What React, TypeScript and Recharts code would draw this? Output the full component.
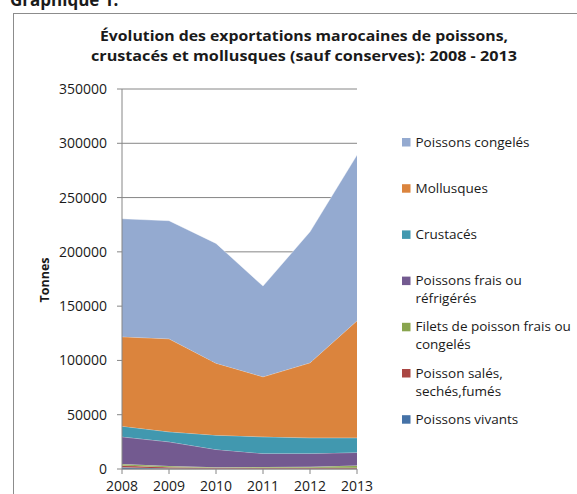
import React from 'react';
import { AreaChart, Area, XAxis, YAxis, CartesianGrid } from 'recharts';

// Exportations marocaines (tonnes)
const years = ['2008', '2009', '2010', '2011', '2012', '2013'];
const poissonsVivants = [1500, 500, 300, 300, 300, 300];
const poissonSales = [1800, 1200, 800, 900, 900, 900];
const filetsPoisson = [1200, 1000, 600, 700, 800, 2000];
const poissonsFrais = [25100, 22300, 16300, 12400, 12300, 12000];
const crustaces = [9850, 9200, 13150, 15300, 14400, 13500];
const mollusques = [82300, 85700, 66350, 55300, 69100, 107800];
const poissonsCongeles = [108750, 108800, 110300, 83600, 120700, 152700];
const yTicks = [0, 50000, 100000, 150000, 200000, 250000, 300000, 350000];

// stacking order: first = bottom
const series = [
  { key: 'vivants', lines: ['Poissons vivants'], color: '#4572A7', values: poissonsVivants },
  { key: 'sales', lines: ['Poisson salés,', 'sechés,fumés'], color: '#AA4643', values: poissonSales },
  { key: 'filets', lines: ['Filets de poisson frais ou', 'congelés'], color: '#89A54E', values: filetsPoisson },
  { key: 'frais', lines: ['Poissons frais ou', 'réfrigérés'], color: '#735A90', values: poissonsFrais },
  { key: 'crustaces', lines: ['Crustacés'], color: '#4198AF', values: crustaces },
  { key: 'mollusques', lines: ['Mollusques'], color: '#DB843D', values: mollusques },
  { key: 'congeles', lines: ['Poissons congelés'], color: '#94AAD0', values: poissonsCongeles },
];

const data = years.map((year, i) => {
  const row: Record<string, any> = { year };
  series.forEach(s => { row[s.key] = s.values[i]; });
  return row;
});

const FONT = '"Open Sans", "Liberation Sans", sans-serif';
const AXIS = '#868686';

export default function App() {
  const legendItems = [...series].reverse();
  return (
    <div style={{ position: 'absolute', left: 0, top: 0, width: 577, height: 494, overflow: 'hidden', background: '#fff', fontFamily: FONT }}>
      <div style={{ position: 'absolute', left: 13, top: 13, width: 600, height: 500, borderLeft: '1px solid #8c8c8c', borderTop: '1px solid #8c8c8c' }} />

      <div style={{ position: 'absolute', left: 0, top: 0 }}>
        <AreaChart width={577} height={494} data={data} margin={{ top: 89, right: 220, bottom: 0, left: 52 }}>
          <CartesianGrid vertical={false} stroke={AXIS} strokeWidth={1} />
          <XAxis
            dataKey="year"
            height={25}
            axisLine={{ stroke: AXIS }}
            tickLine={{ stroke: AXIS }}
            tickSize={5}
            tickMargin={7}
            interval={0}
            tick={{ fontSize: 14, fill: '#1a1a1a' }}
          />
          <YAxis
            width={70}
            domain={[0, 350000]}
            ticks={yTicks}
            interval={0}
            axisLine={{ stroke: AXIS }}
            tickLine={{ stroke: AXIS }}
            tickSize={5}
            tickMargin={10}
            tick={{ fontSize: 14, fill: '#1a1a1a' }}
          />
          {series.map(s => (
            <Area
              key={s.key}
              type="linear"
              dataKey={s.key}
              stackId="1"
              fill={s.color}
              fillOpacity={1}
              stroke="#ffffff"
              strokeOpacity={0.5}
              strokeWidth={0.8}
              isAnimationActive={false}
            />
          ))}
        </AreaChart>
      </div>

      <svg width={577} height={494} style={{ position: 'absolute', left: 0, top: 0, pointerEvents: 'none' }}>
        <text x={10} y={6} fontSize={17} fontWeight="bold" fill="#1a1a1a">Graphique 1:</text>
        <text x={100} y={40.5} fontSize={15} fontWeight="bold" fill="#1a1a1a" textLength={408} lengthAdjust="spacingAndGlyphs">
          Évolution des exportations marocaines de poissons,
        </text>
        <text x={91} y={61} fontSize={15} fontWeight="bold" fill="#1a1a1a" textLength={426} lengthAdjust="spacingAndGlyphs">
          crustacés et mollusques (sauf conserves): 2008 - 2013
        </text>
        <text x={48.5} y={280} fontSize={12.5} fontWeight="bold" fill="#1a1a1a" textAnchor="middle" transform="rotate(-90 48.5 280)">
          Tonnes
        </text>
        {legendItems.map((s, i) => {
          const base = 146.5 + i * 46.2;
          return (
            <g key={s.key}>
              <rect x={402} y={base - 8.5} width={8.5} height={8.5} fill={s.color} />
              {s.lines.map((line, j) => (
                <text key={j} x={415.5} y={base + j * 18} fontSize={13.5} fill="#1a1a1a">{line}</text>
              ))}
            </g>
          );
        })}
      </svg>
    </div>
  );
}
